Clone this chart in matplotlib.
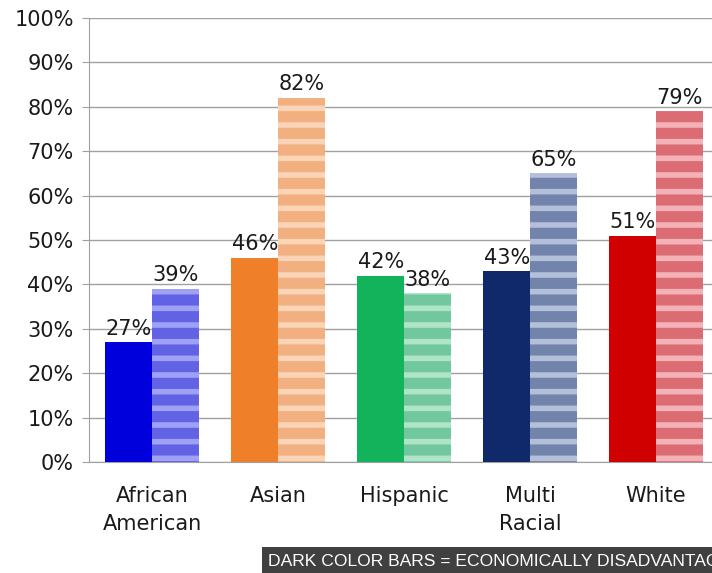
import matplotlib.pyplot as plt
import numpy as np

categories = ['African\nAmerican', 'Asian', 'Hispanic', 'Multi\nRacial', 'White']
econ_dis = [27, 46, 42, 43, 51]
not_dis = [39, 82, 38, 65, 79]

dark_colors = ['#0000DC', '#F07F2A', '#12B35A', '#10296B', '#D00000']
light_base = ['#6262E4', '#F2B080', '#72C89E', '#7284AC', '#DC6C74']
light_stripe = ['#A0A0F6', '#FAD4B6', '#B0E4C8', '#B4C0DA', '#F2B2B8']

plt.rcParams['font.family'] = 'DejaVu Sans'
plt.rcParams['hatch.linewidth'] = 4.0

fig = plt.figure(figsize=(7.12, 5.73), dpi=100)
ax = fig.add_axes([89 / 712, 111 / 573, 630 / 712, 444 / 573])

x = np.arange(len(categories))
w = 0.37

bars1 = ax.bar(x - w / 2, econ_dis, w, color=dark_colors, edgecolor='none', zorder=3)
bars2 = ax.bar(x + w / 2, not_dis, w, color=light_base, edgecolor='none', zorder=3)
for b, sc in zip(bars2, light_stripe):
    b.set_hatch('-')
    b._hatch_color = plt.matplotlib.colors.to_rgba(sc)

for bars, vals in ((bars1, econ_dis), (bars2, not_dis)):
    for b, v in zip(bars, vals):
        ax.text(b.get_x() + b.get_width() / 2, v + 0.8, f'{v}%',
                ha='center', va='bottom', fontsize=15, color='#1a1a1a', zorder=4)

ax.set_xlim(-0.5, len(categories) - 0.5)
ax.set_ylim(0, 100)
ax.set_yticks(np.arange(0, 101, 10))
ax.set_yticklabels([f'{t}%' for t in range(0, 101, 10)], fontsize=15, color='#1a1a1a')
ax.set_xticks(x)
ax.set_xticklabels(categories, fontsize=15, color='#1a1a1a', linespacing=1.5)
ax.tick_params(axis='x', length=0, pad=17)
ax.tick_params(axis='y', length=5, color='#A0A0A0', pad=6)
ax.grid(axis='y', color='#A0A0A0', linewidth=1, zorder=0)
for s in ['top', 'right']:
    ax.spines[s].set_visible(False)
ax.spines['left'].set_color('#A0A0A0')
ax.spines['bottom'].set_color('#A0A0A0')

# note banner runs off the right edge, as in the reference
fig.text(268 / 712, 12 / 573, 'DARK COLOR BARS = ECONOMICALLY DISADVANTAGED',
         fontsize=12.6, color='white', family='Liberation Sans', va='center', ha='left',
         bbox=dict(boxstyle='square,pad=0.35', facecolor='#404040', edgecolor='none'))

fig.savefig('out.png', dpi=100)
